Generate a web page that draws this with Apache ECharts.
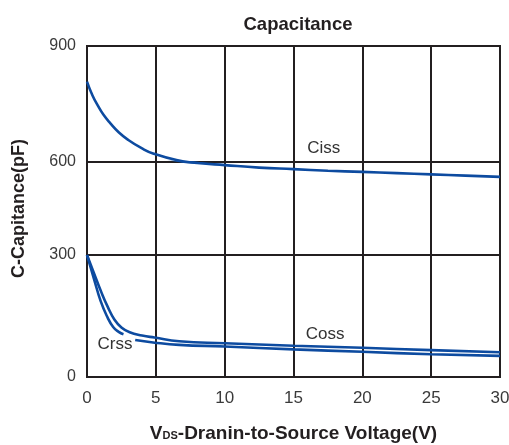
<!DOCTYPE html>
<html>
<head>
<meta charset="utf-8">
<script src="https://cdn.jsdelivr.net/npm/echarts@6/dist/echarts.min.js"></script>
<style>html,body{margin:0;padding:0;background:#fff}#c{width:509px;height:445px}</style>
</head>
<body>
<div id="c"></div>
<script>
// ---- data (V in volts, C in pF) ----
const cissV = [0, 0.4, 0.8, 1.2, 1.7, 2.3, 3, 4, 4.8, 6.5, 8, 10, 12.5, 15, 17.5, 20, 22.5, 25, 27.5, 30];
const cissC = [808, 772, 745, 722, 700, 677, 657, 635, 622, 605, 597, 590, 582, 577, 572, 568, 564, 560, 556, 552];
const cossV = [0, 0.5, 1, 1.5, 2, 2.5, 3.1, 4, 4.9, 6.7, 10, 15, 20, 25, 30];
const cossC = [300, 256, 212, 173, 141, 122, 110, 102, 97, 88, 83, 77, 72, 66, 61];
// '-' marks the break in the Crss curve where its label sits
const crssV = [0, 0.5, 1, 1.5, 1.9, 2.3, 2.65, 3.0, 3.5, 4.8, 6.7, 10, 15, 20, 25, 30];
const crssC = [300, 242, 186, 146, 123, 111, 105, '-', 91, 85, 79, 75, 68, 62, 56, 52];
const xTicks = [0, 5, 10, 15, 20, 25, 30];
const yTicks = [0, 300, 600, 900];
const labelCiss = [17.2, 636];
const labelCoss = [17.3, 105];
const labelCrss = [2.03, 81];

const pairs = (xs, ys) => xs.map((x, i) => [x, ys[i]]);
const FONT = "'Liberation Sans', Arial, Helvetica, sans-serif";
const LINE = '#0d4ba0';
const DARK = '#231f20';

function xAx(idx, showLabels) {
  return {
    type: 'value', gridIndex: idx, min: xTicks[0], max: xTicks[xTicks.length - 1],
    interval: xTicks[1] - xTicks[0],
    axisLine: { show: false }, axisTick: { show: false },
    axisLabel: { show: showLabels, color: '#3a3a3a', fontSize: 17, fontFamily: FONT, margin: 13 },
    splitLine: { show: true, lineStyle: { color: DARK, width: 2 } }
  };
}
function yAx(idx, lo, hi, showLabels) {
  return {
    type: 'value', gridIndex: idx, min: lo, max: hi, interval: 300,
    axisLine: { show: false }, axisTick: { show: false },
    axisLabel: { show: showLabels, color: '#3a3a3a', fontSize: 16, fontFamily: FONT, margin: 11 },
    splitLine: { show: false }
  };
}
const gridBase = {
  left: 87, right: 9, show: true, borderColor: DARK, borderWidth: 2,
  backgroundColor: 'transparent', containLabel: false, outerBoundsMode: 'none'
};
function mp(coord, text) {
  return {
    symbol: 'circle', symbolSize: 0, silent: true,
    label: { show: true, position: 'inside', formatter: text, color: '#333', fontSize: 17, fontFamily: FONT },
    data: [{ coord: coord }]
  };
}
const lineBase = {
  type: 'line', showSymbol: false, smooth: 0.5, clip: true,
  lineStyle: { color: LINE, width: 2.6 }, itemStyle: { color: LINE }
};

const option = {
  animation: false,
  title: {
    text: 'Capacitance', left: 293, top: 10, textAlign: 'center',
    textStyle: { fontSize: 18.5, fontWeight: 'bold', color: DARK, fontFamily: FONT }
  },
  grid: [
    Object.assign({ top: 46, height: 116 }, gridBase),
    Object.assign({ top: 162, height: 93 }, gridBase),
    Object.assign({ top: 255, height: 122 }, gridBase)
  ],
  xAxis: [
    xAx(0, false), xAx(1, false),
    Object.assign(xAx(2, true), {
      name: '{v|V}{s|DS}{n|-Dranin-to-Source Voltage(V)}',
      nameLocation: 'middle', nameGap: 47,
      nameTextStyle: {
        rich: {
          v: { fontSize: 19, fontWeight: 'bold', color: DARK, fontFamily: FONT },
          s: { fontSize: 11, fontWeight: 'bold', color: DARK, fontFamily: FONT, padding: [4, 0, 0, 0] },
          n: { fontSize: 19, fontWeight: 'bold', color: DARK, fontFamily: FONT }
        }
      }
    })
  ],
  yAxis: [
    yAx(0, yTicks[2], yTicks[3], true),
    Object.assign(yAx(1, yTicks[1], yTicks[2], false), {
      name: 'C-Capitance(pF)', nameLocation: 'middle', nameGap: 59, nameRotate: 90,
      nameTextStyle: { fontSize: 18, fontWeight: 'bold', color: DARK, fontFamily: FONT }
    }),
    yAx(2, yTicks[0], yTicks[1], true)
  ],
  series: [
    Object.assign({}, lineBase, { name: 'Ciss', xAxisIndex: 0, yAxisIndex: 0, data: pairs(cissV, cissC), markPoint: mp(labelCiss, 'Ciss') }),
    Object.assign({}, lineBase, { name: 'Ciss', xAxisIndex: 1, yAxisIndex: 1, data: pairs(cissV, cissC) }),
    Object.assign({}, lineBase, { name: 'Coss', xAxisIndex: 2, yAxisIndex: 2, data: pairs(cossV, cossC), markPoint: mp(labelCoss, 'Coss') }),
    Object.assign({}, lineBase, { name: 'Crss', xAxisIndex: 2, yAxisIndex: 2, connectNulls: false, data: pairs(crssV, crssC), markPoint: mp(labelCrss, 'Crss') })
  ]
};
const chart = echarts.init(document.getElementById('c'), null, { renderer: 'canvas' });
chart.setOption(option);
</script>
</body>
</html>
